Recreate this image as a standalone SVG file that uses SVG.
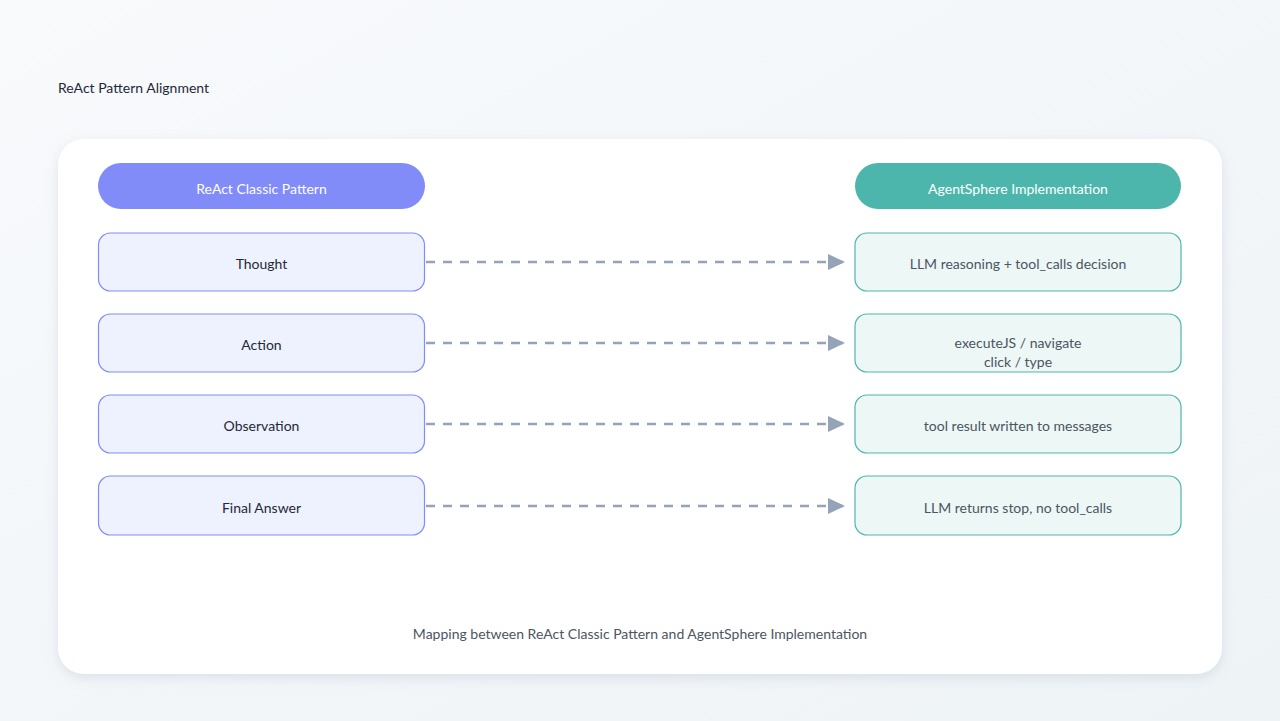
<svg xmlns="http://www.w3.org/2000/svg" width="1280" height="721" viewBox="0 0 1280 721">
<defs>
<linearGradient id="bg" x1="0" y1="0" x2="1" y2="1"><stop offset="0" stop-color="#f8fafc"/><stop offset="1" stop-color="#eef3f6"/></linearGradient>
<filter id="sh" x="-5%" y="-5%" width="110%" height="115%"><feDropShadow dx="0" dy="4" stdDeviation="6" flood-color="#94a3b8" flood-opacity="0.25"/></filter>
<marker id="ah" markerWidth="18" markerHeight="16" refX="17" refY="8" orient="auto" markerUnits="userSpaceOnUse"><path d="M0,0 L17,8 L0,16 Z" fill="#94a3b8"/></marker>
<style>
text{font-family:Lato,"Noto Sans",sans-serif;font-size:14px;text-anchor:middle}
.l{fill:#eef2fe;stroke:#818cf8;stroke-width:1.2}
.r{fill:#edf7f5;stroke:#4db6ac;stroke-width:1.2}
.lt{fill:#1f2937}
.rt{fill:#4b5563}
.c{stroke:#94a3b8;stroke-width:2.5;stroke-dasharray:9 8;fill:none}
</style>
</defs>
<rect width="1280" height="721" fill="url(#bg)"/>
<text x="58" y="93" style="text-anchor:start" fill="#1f2937">ReAct Pattern Alignment</text>
<rect x="58" y="139" width="1164" height="535" rx="26" fill="#fff" filter="url(#sh)"/>
<g id="hdr-left"><rect x="98" y="163" width="327" height="46" rx="23" fill="#818cf8"/><text x="261.5" y="194" fill="#fff">ReAct Classic Pattern</text></g>
<g id="hdr-right"><rect x="855" y="163" width="326" height="46" rx="23" fill="#4db6ac"/><text x="1018" y="194" fill="#fff">AgentSphere Implementation</text></g>
<g id="thought"><rect class="l" x="98.5" y="233" width="326" height="58" rx="12"/><text class="lt" x="261.5" y="269">Thought</text></g>
<g id="action"><rect class="l" x="98.5" y="314" width="326" height="58" rx="12"/><text class="lt" x="261.5" y="350">Action</text></g>
<g id="observation"><rect class="l" x="98.5" y="395" width="326" height="58" rx="12"/><text class="lt" x="261.5" y="431">Observation</text></g>
<g id="final"><rect class="l" x="98.5" y="476" width="326" height="59" rx="12"/><text class="lt" x="261.5" y="513">Final Answer</text></g>
<g id="llm"><rect class="r" x="855" y="233" width="326" height="58" rx="12"/><text class="rt" x="1018" y="269">LLM reasoning + tool_calls decision</text></g>
<g id="exec"><rect class="r" x="855" y="314" width="326" height="58" rx="12"/><text class="rt" x="1018" y="348">executeJS / navigate</text><text class="rt" x="1018" y="367">click / type</text></g>
<g id="result"><rect class="r" x="855" y="395" width="326" height="58" rx="12"/><text class="rt" x="1018" y="431">tool result written to messages</text></g>
<g id="stop"><rect class="r" x="855" y="476" width="326" height="59" rx="12"/><text class="rt" x="1018" y="513">LLM returns stop, no tool_calls</text></g>
<g id="connectors">
<line class="c" x1="426" y1="262" x2="845" y2="262" marker-end="url(#ah)"/>
<line class="c" x1="426" y1="343" x2="845" y2="343" marker-end="url(#ah)"/>
<line class="c" x1="426" y1="424" x2="845" y2="424" marker-end="url(#ah)"/>
<line class="c" x1="426" y1="506" x2="845" y2="506" marker-end="url(#ah)"/>
</g>
<text x="640" y="639" fill="#4b5563">Mapping between ReAct Classic Pattern and AgentSphere Implementation</text>
</svg>
